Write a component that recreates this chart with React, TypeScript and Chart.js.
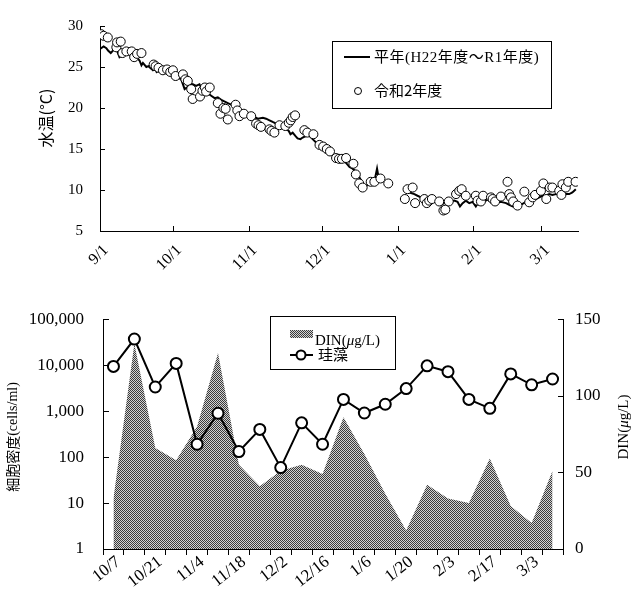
import React, { useEffect, useRef } from 'react';
import { Chart, registerables } from 'chart.js';
Chart.register(...registerables);

// ---------- Top chart (water temperature) ----------
const monthTickDays = [0, 30, 61, 91, 122, 153, 181];
const monthTickLabels = ['9/1', '10/1', '11/1', '12/1', '1/1', '2/1', '3/1'];
const tempTickValues = [5, 10, 15, 20, 25, 30];

const normalDays = [0, 1.5, 2.6, 3.3, 4.4, 5.3, 6, 7, 8, 9, 10.5, 12.4, 13.5, 14.9, 16.2, 17, 17.6, 19, 19.9, 21, 21.7, 22.7, 23.2, 24.4, 25.8, 27.2, 28.5, 29.6, 30.6, 32, 33.3, 34.7, 35.6, 36.7, 38, 39.4, 40.8, 41.9, 42.9, 44.2, 45.6, 47, 48.3, 49.7, 51, 52.4, 53.8, 55.1, 56.5, 57.9, 59.2, 60.6, 62, 64.7, 66.8, 68.1, 69.5, 70.8, 72.2, 73.6, 75, 75.6, 76.6, 77.4, 78.1, 79, 80.1, 81, 82.2, 83.1, 84.5, 85.2, 87.2, 88.6, 90.7, 92.7, 94.1, 96.1, 98.1, 99.5, 100.9, 102.3, 103.6, 105, 106.3, 107.7, 109.1, 110.5, 111.8, 112.9, 113.6, 114.3, 115.2, 120, 125.5, 126.9, 128.9, 130.2, 131.6, 133, 134.3, 135.7, 137, 138.4, 139.8, 141.2, 142.5, 143.9, 145.3, 146.6, 147.6, 148.7, 150, 151.4, 152.8, 154.1, 155.5, 156.9, 158.2, 159.6, 161, 162.3, 163, 164.4, 166.5, 167.8, 169.2, 170.5, 172.6, 174.6, 176.7, 178.7, 180.1, 181.4, 182.8, 184.2, 185.5, 186.9, 188.3, 189.6, 191, 192.4, 193.7, 195.1];
const normalTemps = [27.2, 27.5, 27.3, 27.0, 26.7, 27.0, 27.3, 27.0, 26.2, 26.4, 26.6, 26.6, 26.4, 26.2, 25.8, 25.2, 25.5, 25.0, 25.1, 24.8, 24.6, 24.8, 24.4, 24.7, 24.3, 24.3, 24.1, 23.9, 24.0, 23.7, 23.5, 22.3, 22.5, 22.7, 22.9, 22.7, 22.9, 22.3, 21.9, 21.8, 21.5, 21.2, 21.3, 21.0, 20.8, 20.6, 20.4, 20.2, 20.0, 19.7, 19.6, 19.3, 19.1, 18.7, 18.8, 18.7, 18.5, 18.3, 18.1, 18.0, 17.9, 17.5, 17.4, 17.2, 16.8, 17.0, 16.6, 16.3, 16.2, 16.4, 16.6, 16.8, 16.2, 15.8, 15.25, 14.9, 14.5, 14.1, 13.7, 13.5, 13.3, 12.8, 12.6, 12.2, 11.6, 10.8, 10.5, 10.8, 11.0, 11.6, 12.6, 11.4, 11.2, null, 9.9, 9.7, 9.5, 9.3, 9.1, 8.9, 9.1, 8.7, 8.9, 8.5, 8.2, 8.4, 8.55, 8.55, 8.7, 8.55, 8.0, 8.4, 8.7, 8.4, 8.55, 8.0, 8.7, 8.55, 8.7, 8.9, 8.55, 8.2, 8.55, 8.55, 8.4, 8.2, 8.0, 8.2, 8.2, 8.55, 8.7, 8.9, 9.1, 9.3, 9.3, 9.5, 9.4, 9.5, 9.7, 9.5, 9.5, 9.5, 9.7, 10.1];

const obsDays = [0.5, 1.5, 3.2, 6.7, 7.0, 8.5, 9.2, 10.8, 13.0, 14.0, 15.2, 17.0, 22.0, 22.8, 24.0, 25.8, 27.5, 28.8, 29.9, 31.0, 34.0, 35.0, 36.0, 37.4, 38.0, 41.0, 42.0, 43.0, 43.5, 45.0, 48.3, 49.4, 50.6, 51.5, 52.4, 55.6, 56.3, 57.2, 59.0, 62.0, 64.0, 65.0, 66.0, 69.5, 70.3, 71.5, 73.6, 76.0, 77.4, 78.2, 79.0, 80.0, 83.8, 85.0, 87.5, 90.0, 91.5, 93.0, 94.3, 96.8, 98.0, 99.2, 100.9, 103.9, 104.9, 106.3, 107.7, 111.0, 112.5, 115.0, 118.2, 125.0, 126.1, 128.2, 129.2, 133.0, 134.0, 135.0, 136.1, 139.1, 140.8, 141.6, 143.0, 146.0, 147.3, 148.3, 150.0, 154.1, 154.8, 156.2, 157.1, 160.3, 161.0, 162.0, 164.4, 167.1, 167.8, 168.5, 169.4, 171.2, 174.0, 176.0, 177.4, 178.4, 180.8, 181.8, 183.0, 184.4, 185.5, 188.3, 189.2, 189.6, 191.0, 192.0, 195.0];
const obsTemps = [29.0, 28.8, 28.6, 27.4, 28.0, 28.1, 26.7, 26.9, 26.9, 26.2, 26.6, 26.7, 25.3, 25.1, 24.9, 24.6, 24.7, 24.4, 24.6, 23.9, 24.1, 23.5, 23.3, 22.3, 21.1, 21.4, 22.1, 22.5, 22.0, 22.5, 20.6, 19.3, 20.0, 19.9, 18.6, 20.4, 19.7, 19.0, 19.3, 19.0, 18.1, 17.9, 17.7, 17.4, 17.2, 17.0, 17.9, 17.8, 18.2, 18.5, 18.9, 19.1, 17.3, 17.0, 16.8, 15.5, 15.3, 15.0, 14.7, 13.9, 13.8, 13.8, 13.9, 13.2, 11.9, 10.8, 10.3, 11.0, 11.0, 11.4, 10.8, 8.9, 10.1, 10.3, 8.4, 8.9, 8.4, 8.7, 8.9, 8.6, 7.5, 7.6, 8.6, 9.5, 9.9, 10.1, 9.3, 9.3, 8.7, 8.6, 9.3, 9.1, 8.9, 8.6, 9.2, 11.0, 9.5, 9.1, 8.6, 8.1, 9.8, 8.5, 9.1, 9.4, 9.9, 10.8, 8.9, 10.3, 10.3, 9.9, 9.4, 10.7, 10.3, 11.0, 11.0];

// ---------- Bottom chart (diatom / DIN) ----------
const sampleDates = ['10/7', '10/14', '10/21', '10/28', '11/4', '11/11', '11/18', '11/25', '12/2', '12/9', '12/16', '12/23', '1/6', '1/13', '1/20', '1/27', '2/3', '2/10', '2/17', '2/24', '3/3', '3/10'];
const diatomCells = [9400, 37000, 3350, 10900, 190, 900, 132, 400, 59, 555, 190, 1800, 910, 1410, 3090, 9660, 7220, 1800, 1150, 6450, 3740, 5000];
const dinValues = [33, 134, 66, 58, 80, 128, 55, 41, 51, 55, 49, 86, 62, 36, 12, 42, 33, 30, 59, 28, 17, 51];
const cellTickValues = [1, 10, 100, 1000, 10000, 100000];
const dinTickValues = [0, 50, 100, 150];

const SERIF = '"Liberation Serif", "Noto Sans CJK JP", serif';
const SERIF_IT = 'italic 15px "Liberation Serif", serif';
const JP = '"Noto Sans CJK JP", sans-serif';

type Run = { text: string; font: string };

function drawRuns(ctx: CanvasRenderingContext2D, runs: Run[], x: number, y: number, center: boolean) {
  const widths = runs.map((r) => {
    ctx.font = r.font;
    return ctx.measureText(r.text).width;
  });
  const total = widths.reduce((a, b) => a + b, 0);
  let cx = center ? x - total / 2 : x;
  ctx.textAlign = 'left';
  runs.forEach((r, i) => {
    ctx.font = r.font;
    ctx.fillText(r.text, cx, y);
    cx += widths[i];
  });
}

function makePattern(ctx: CanvasRenderingContext2D) {
  const c = document.createElement('canvas');
  c.width = 2;
  c.height = 2;
  const g = c.getContext('2d')!;
  g.fillStyle = '#d2d2d2';
  g.fillRect(0, 0, 2, 2);
  g.fillStyle = '#3a3a3a';
  g.fillRect(0, 0, 1, 1);
  g.fillRect(1, 1, 1, 1);
  return ctx.createPattern(c, 'repeat')!;
}

export default function App() {
  const topRef = useRef<HTMLCanvasElement>(null);
  const botRef = useRef<HTMLCanvasElement>(null);

  useEffect(() => {
    const topCanvas = topRef.current!;
    const botCanvas = botRef.current!;

    const topDecor = {
      id: 'topDecor',
      afterDraw(chart: any) {
        const { ctx, scales } = chart;
        const x = scales.x;
        const y = scales.y;
        ctx.save();
        ctx.strokeStyle = '#000';
        ctx.lineWidth = 1;
        tempTickValues.forEach((v) => {
          const py = Math.round(y.getPixelForValue(v)) + 0.5;
          ctx.beginPath();
          ctx.moveTo(x.left, py);
          ctx.lineTo(x.left + 5, py);
          ctx.stroke();
        });
        monthTickDays.forEach((d) => {
          const px = Math.round(x.getPixelForValue(d)) + 0.5;
          ctx.beginPath();
          ctx.moveTo(px, y.bottom);
          ctx.lineTo(px, y.bottom - 5);
          ctx.stroke();
        });
        // y title
        ctx.fillStyle = '#000';
        ctx.save();
        ctx.translate(46, 118);
        ctx.rotate(-Math.PI / 2);
        ctx.textBaseline = 'middle';
        drawRuns(ctx, [{ text: '水温(°C)', font: '16px ' + JP }], 0, 0, true);
        ctx.restore();
        // legend
        ctx.strokeRect(332.5, 41.5, 219, 67);
        ctx.lineWidth = 2;
        ctx.beginPath();
        ctx.moveTo(344, 57);
        ctx.lineTo(370, 57);
        ctx.stroke();
        ctx.textBaseline = 'alphabetic';
        (ctx as any).letterSpacing = '0.5px';
        drawRuns(ctx, [{ text: '平年(H22年度～R1年度)', font: '15px ' + SERIF }], 374, 62, false);
        (ctx as any).letterSpacing = '0px';
        ctx.lineWidth = 1;
        ctx.beginPath();
        ctx.arc(358, 91, 3.5, 0, Math.PI * 2);
        ctx.fillStyle = '#fff';
        ctx.fill();
        ctx.stroke();
        ctx.fillStyle = '#000';
        drawRuns(ctx, [{ text: '令和2年度', font: '15px ' + JP }], 374, 96, false);
        ctx.restore();
      },
    };

    const topChart = new Chart(topCanvas, {
      type: 'scatter',
      data: {
        datasets: [
          {
            label: '令和2年度',
            data: obsDays.map((d, i) => ({ x: d, y: obsTemps[i] })),
            showLine: false,
            pointRadius: 4.5,
            pointBackgroundColor: '#fff',
            pointBorderColor: '#000',
            pointBorderWidth: 1,
          },
          {
            label: '平年(H22年度～R1年度)',
            data: normalDays.map((d, i) => ({ x: d, y: normalTemps[i] })) as any,
            showLine: true,
            borderColor: '#000',
            borderWidth: 2,
            pointRadius: 0,
            spanGaps: false,
            tension: 0,
          },
        ],
      },
      options: {
        responsive: false,
        maintainAspectRatio: false,
        devicePixelRatio: 1,
        animation: false,
        layout: { padding: { top: 13, right: 53, left: 0, bottom: 0 } },
        plugins: { legend: { display: false }, tooltip: { enabled: false } },
        scales: {
          x: {
            type: 'linear',
            min: 0,
            max: 196,
            afterBuildTicks: (s: any) => {
              s.ticks = monthTickDays.map((v) => ({ value: v }));
            },
            afterFit: (s: any) => {
              s.height = 59;
            },
            ticks: {
              autoSkip: false,
              minRotation: 45,
              maxRotation: 45,
              padding: 10,
              labelOffset: 6,
              color: '#000',
              font: { family: SERIF, size: 16 },
              callback: (v: any) => {
                const i = monthTickDays.indexOf(Number(v));
                return i >= 0 ? monthTickLabels[i] : '';
              },
            },
            grid: { display: true, drawOnChartArea: false, drawTicks: false },
            border: { display: true, color: '#000', width: 1 },
          },
          y: {
            min: 5,
            max: 30,
            afterBuildTicks: (s: any) => {
              s.ticks = tempTickValues.map((v) => ({ value: v }));
            },
            afterFit: (s: any) => {
              s.width = 100;
            },
            ticks: { padding: 17, color: '#000', font: { family: SERIF, size: 15 } },
            grid: { display: true, drawOnChartArea: false, drawTicks: false },
            border: { display: true, color: '#000', width: 1 },
          },
        },
      },
      plugins: [topDecor],
    } as any);

    const botCtx = botCanvas.getContext('2d')!;
    const pattern = makePattern(botCtx);

    const botDecor = {
      id: 'botDecor',
      afterDraw(chart: any) {
        const { ctx, chartArea, scales } = chart;
        const y = scales.y;
        const y2 = scales.y2;
        ctx.save();
        ctx.strokeStyle = '#000';
        ctx.lineWidth = 1;
        cellTickValues.forEach((v) => {
          const py = Math.round(y.getPixelForValue(v)) + 0.5;
          ctx.beginPath();
          ctx.moveTo(chartArea.left, py);
          ctx.lineTo(chartArea.left + 6, py);
          ctx.stroke();
        });
        dinTickValues.forEach((v) => {
          const py = Math.round(y2.getPixelForValue(v)) + 0.5;
          ctx.beginPath();
          ctx.moveTo(chartArea.right, py);
          ctx.lineTo(chartArea.right - 5, py);
          ctx.stroke();
        });
        ctx.fillStyle = '#000';
        ctx.textBaseline = 'middle';
        // left title
        ctx.save();
        ctx.translate(13, 147);
        ctx.rotate(-Math.PI / 2);
        drawRuns(ctx, [
          { text: '細胞密度', font: '14px ' + JP },
          { text: '(cells/ml)', font: '14px ' + SERIF },
        ], 0, 0, true);
        ctx.restore();
        // right title
        ctx.save();
        ctx.translate(624, 137);
        ctx.rotate(-Math.PI / 2);
        drawRuns(ctx, [
          { text: 'DIN(', font: '15px ' + SERIF },
          { text: 'μ', font: SERIF_IT },
          { text: 'g/L)', font: '15px ' + SERIF },
        ], 0, 0, true);
        ctx.restore();
        // legend
        ctx.strokeRect(270.5, 26.5, 125, 53);
        ctx.fillStyle = pattern;
        ctx.fillRect(290, 40, 23, 8);
        ctx.fillStyle = '#000';
        ctx.textBaseline = 'alphabetic';
        drawRuns(ctx, [
          { text: 'DIN(', font: '15px ' + SERIF },
          { text: 'μ', font: SERIF_IT },
          { text: 'g/L)', font: '15px ' + SERIF },
        ], 315, 55, false);
        ctx.lineWidth = 2;
        ctx.beginPath();
        ctx.moveTo(290, 65);
        ctx.lineTo(313, 65);
        ctx.stroke();
        ctx.beginPath();
        ctx.arc(301, 65, 4.5, 0, Math.PI * 2);
        ctx.fillStyle = '#fff';
        ctx.fill();
        ctx.stroke();
        ctx.fillStyle = '#000';
        drawRuns(ctx, [{ text: '珪藻', font: '15px ' + JP }], 318, 70, false);
        ctx.restore();
      },
    };

    const botChart = new Chart(botCanvas, {
      type: 'line',
      data: {
        labels: sampleDates,
        datasets: [
          {
            label: '珪藻',
            data: diatomCells,
            yAxisID: 'y',
            borderColor: '#000',
            borderWidth: 2,
            pointRadius: 5.5,
            pointBackgroundColor: '#fff',
            pointBorderColor: '#000',
            pointBorderWidth: 2,
            tension: 0,
            fill: false,
          },
          {
            label: 'DIN(μg/L)',
            data: dinValues,
            yAxisID: 'y2',
            borderWidth: 0,
            borderColor: 'rgba(0,0,0,0)',
            backgroundColor: pattern,
            pointRadius: 0,
            fill: 'origin',
            tension: 0,
          },
        ],
      },
      options: {
        responsive: false,
        maintainAspectRatio: false,
        devicePixelRatio: 1,
        animation: false,
        layout: { padding: { top: 24, right: 0, left: 0, bottom: 0 } },
        plugins: { legend: { display: false }, tooltip: { enabled: false } },
        scales: {
          x: {
            type: 'category',
            offset: true,
            afterFit: (s: any) => {
              s.height = 47;
            },
            ticks: {
              autoSkip: false,
              minRotation: 38,
              maxRotation: 38,
              padding: -3,
              labelOffset: 5,
              color: '#000',
              font: { family: SERIF, size: 17 },
              callback: (_v: any, i: number) => (i % 2 === 0 ? sampleDates[i] : ''),
            },
            grid: { display: true, offset: true, drawOnChartArea: false, drawTicks: true, tickLength: 6, color: '#000' },
            border: { display: true, color: '#000', width: 1 },
          },
          y: {
            type: 'logarithmic',
            position: 'left',
            min: 1,
            max: 100000,
            afterBuildTicks: (s: any) => {
              s.ticks = cellTickValues.map((v) => ({ value: v }));
            },
            afterFit: (s: any) => {
              s.width = 103;
            },
            ticks: {
              padding: 19,
              color: '#000',
              font: { family: SERIF, size: 17 },
              callback: (v: any) => Number(v).toLocaleString('en-US'),
            },
            grid: { display: true, drawOnChartArea: false, drawTicks: false },
            border: { display: true, color: '#000', width: 1 },
          },
          y2: {
            type: 'linear',
            position: 'right',
            min: 0,
            max: 150,
            afterBuildTicks: (s: any) => {
              s.ticks = dinTickValues.map((v) => ({ value: v }));
            },
            afterFit: (s: any) => {
              s.width = 68;
            },
            ticks: { padding: 12, color: '#000', font: { family: SERIF, size: 17 } },
            grid: { display: true, drawOnChartArea: false, drawTicks: false },
            border: { display: true, color: '#000', width: 1 },
          },
        },
      },
      plugins: [botDecor],
    } as any);

    return () => {
      topChart.destroy();
      botChart.destroy();
    };
  }, []);

  return (
    <div style={{ position: 'absolute', left: 0, top: 0, width: 631, height: 596, background: '#fff' }}>
      <canvas ref={topRef} width={631} height={290} style={{ position: 'absolute', left: 0, top: 0 }} />
      <canvas ref={botRef} width={631} height={306} style={{ position: 'absolute', left: 0, top: 290 }} />
    </div>
  );
}
